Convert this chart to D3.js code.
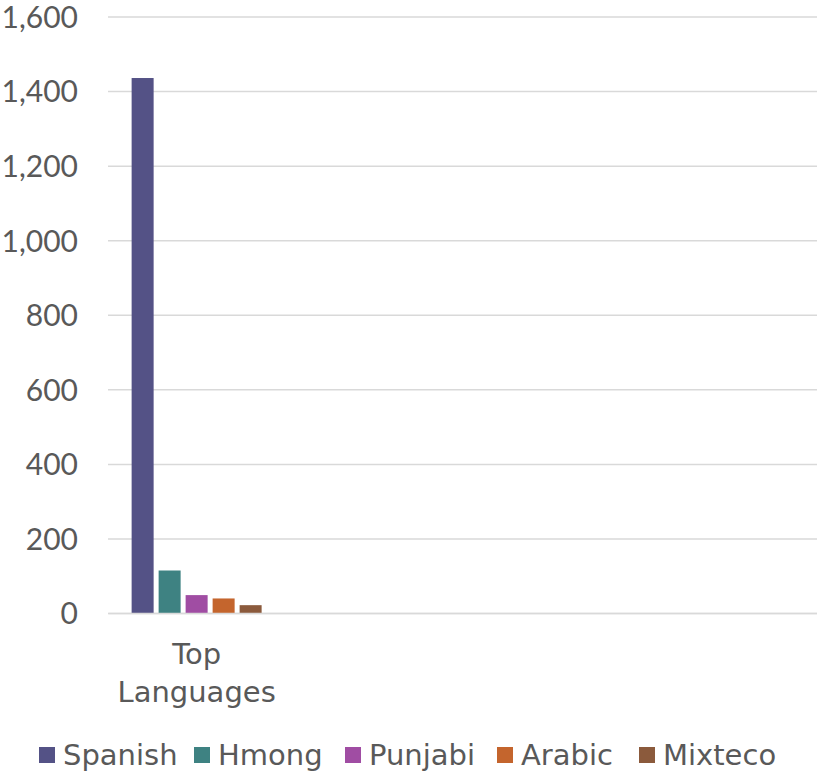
<!DOCTYPE html>
<html>
<head>
<meta charset="utf-8">
<script src="https://cdn.jsdelivr.net/npm/d3@7"></script>
<style>
  html, body { margin: 0; padding: 0; background: #fff; }
  svg { display: block; }
  text { fill: #595959; }
</style>
</head>
<body>
<svg id="chart" width="817" height="775"></svg>
<script>
const categories = ["Top Languages", "", "", ""];
const seriesNames = ["Spanish", "Hmong", "Punjabi", "Arabic", "Mixteco"];
const seriesColors = ["#545286", "#3E8282", "#A04DA3", "#C4652D", "#8B5A3C"];
// values per series for the first category only
const seriesValues = [
  [1435],
  [114],
  [48],
  [39],
  [21]
];
const yTicks = [0, 200, 400, 600, 800, 1000, 1200, 1400, 1600];

(function () {
const svg = d3.select("#chart");
const mLeft = 108, mRight = 817, mTop = 16.5, mBottom = 613;
const numFont = "Lato, 'Noto Sans', sans-serif";
const txtFont = "'DejaVu Sans', 'Noto Sans', sans-serif";

const y = d3.scaleLinear().domain([0, 1600]).range([mBottom, mTop]);
const x = d3.scaleBand().domain(d3.range(categories.length)).range([mLeft, mRight]);
const xSub = d3.scaleBand().domain(seriesNames).range([0, x.bandwidth()])
  .paddingInner(0.185).paddingOuter(0.875);

// gridlines + y axis labels
const yAxis = d3.axisLeft(y).tickValues(yTicks)
  .tickSize(-(mRight - mLeft))
  .tickFormat(d3.format(","))
  .tickPadding(30);
const gy = svg.append("g").attr("transform", `translate(${mLeft},0)`).call(yAxis);
gy.select(".domain").remove();
gy.selectAll(".tick line").attr("stroke", "#D9D9D9").attr("stroke-width", 1.5);
gy.selectAll(".tick text").attr("font-size", 30).attr("fill", "#595959")
  .attr("dy", "0.36em")
  .style("font-family", numFont);

// bars
const groups = svg.append("g");
seriesNames.forEach((name, si) => {
  groups.selectAll(null)
    .data(seriesValues[si])
    .enter().append("rect")
    .attr("x", (d, ci) => x(ci) + xSub(name))
    .attr("width", xSub.bandwidth())
    .attr("y", d => y(d))
    .attr("height", d => y(0) - y(d))
    .attr("fill", seriesColors[si]);
});

// baseline axis + category labels
const xAxis = d3.axisBottom(x).tickSize(0).tickFormat(() => "");
const gx = svg.append("g").attr("transform", `translate(0,${mBottom})`).call(xAxis);
gx.select(".domain").attr("stroke", "#D9D9D9").attr("stroke-width", 1.5);
gx.selectAll(".tick").each(function(i) {
  const words = categories[i].split(" ").filter(w => w.length);
  const t = d3.select(this).append("text")
    .attr("text-anchor", "middle")
    .attr("font-size", 29)
    .attr("fill", "#595959")
    .style("font-family", txtFont);
  words.forEach((w, k) => {
    t.append("tspan").attr("x", 0).attr("y", 51 + k * 38).text(w);
  });
});

// legend
const legendX = [39, 194, 345, 497, 639];
const lg = svg.append("g");
seriesNames.forEach((name, i) => {
  const g = lg.append("g").attr("transform", `translate(${legendX[i]},747)`);
  g.append("rect").attr("width", 16).attr("height", 16).attr("fill", seriesColors[i]);
  g.append("text").attr("x", 24).attr("y", 18).attr("font-size", 29)
    .attr("fill", "#595959").style("font-family", txtFont).text(name);
});
})();
</script>
</body>
</html>
